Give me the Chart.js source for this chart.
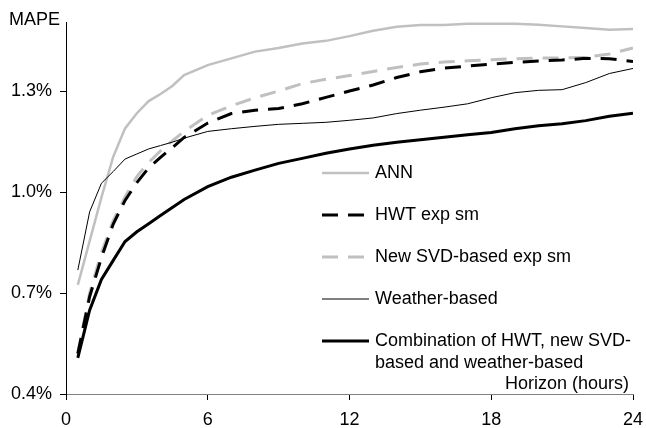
<!DOCTYPE html>
<html>
<head>
<meta charset="utf-8">
<script src="https://cdn.jsdelivr.net/npm/chart.js@4/dist/chart.umd.min.js"></script>
<style>
  html, body { margin: 0; padding: 0; background: #fff; }
  #wrap { width: 646px; height: 428px; position: relative; }
</style>
</head>
<body>
<div id="wrap"><canvas id="mape-chart"></canvas></div>
<script>
// forecast horizon in hours
const horizons = [0.5, 1, 1.5, 2, 2.5, 3, 3.5, 4, 4.5, 5,
  6, 7, 8, 9, 10, 11, 12, 13, 14, 15, 16, 17, 18, 19, 20, 21, 22, 23, 24];

// MAPE (%) per method
const annMape = [0.724, 0.854, 0.984, 1.105, 1.189, 1.234, 1.270, 1.291, 1.315, 1.347,
  1.377, 1.397, 1.417, 1.428, 1.441, 1.449, 1.463, 1.479, 1.491, 1.496,
  1.496, 1.500, 1.500, 1.500, 1.497, 1.492, 1.487, 1.482, 1.484];
const hwtMape = [0.520, 0.689, 0.805, 0.905, 0.975, 1.028, 1.072, 1.103, 1.132, 1.162,
  1.205, 1.233, 1.243, 1.248, 1.262, 1.281, 1.300, 1.318, 1.340, 1.357,
  1.368, 1.374, 1.380, 1.385, 1.389, 1.392, 1.397, 1.396, 1.388];
const svdMape = [0.520, 0.700, 0.820, 0.915, 0.985, 1.046, 1.088, 1.122, 1.152, 1.180,
  1.228, 1.256, 1.280, 1.300, 1.322, 1.335, 1.346, 1.358, 1.370, 1.380,
  1.386, 1.390, 1.393, 1.396, 1.398, 1.398, 1.400, 1.410, 1.428];
const weatherMape = [0.768, 0.941, 1.026, 1.061, 1.098, 1.113, 1.128, 1.138, 1.148, 1.160,
  1.180, 1.188, 1.195, 1.201, 1.204, 1.207, 1.213, 1.220, 1.233, 1.243,
  1.252, 1.262, 1.280, 1.295, 1.302, 1.304, 1.325, 1.352, 1.367];
const comboMape = [0.507, 0.649, 0.740, 0.797, 0.853, 0.882, 0.906, 0.930, 0.954, 0.978,
  1.016, 1.044, 1.065, 1.085, 1.100, 1.115, 1.128, 1.139, 1.148, 1.155,
  1.163, 1.170, 1.177, 1.188, 1.197, 1.203, 1.212, 1.225, 1.234];

const seriesLabels = ['ANN', 'HWT exp sm', 'New SVD-based exp sm', 'Weather-based',
  'Combination of HWT, new SVD-\nbased and weather-based'];
const yTickValues = [0.4, 0.7, 1.0, 1.3];
const xTickValues = [0, 6, 12, 18, 24];

const FONT = "'Liberation Sans', Arial, sans-serif";
const FONT_SIZE = 18;
const LIGHT = '#c0c0c0';

function toPoints(values) {
  return horizons.map((h, i) => ({ x: h, y: values[i] }));
}

// legend drawn inside the plot, one row per dataset
const insideLegend = {
  id: 'insideLegend',
  afterDraw(chart, args, opts) {
    const ctx = chart.ctx;
    ctx.save();
    ctx.font = FONT_SIZE + 'px ' + FONT;
    ctx.textBaseline = 'middle';
    chart.data.datasets.forEach((ds, i) => {
      const y = opts.top + i * opts.rowGap;
      ctx.beginPath();
      ctx.setLineDash(ds.borderDash || []);
      ctx.lineWidth = ds.borderWidth;
      ctx.strokeStyle = ds.borderColor;
      ctx.moveTo(opts.x, y);
      ctx.lineTo(opts.x + opts.lineLen, y);
      ctx.stroke();
      ctx.setLineDash([]);
      ctx.fillStyle = '#000';
      ds.label.split('\n').forEach((line, j) => {
        ctx.fillText(line, opts.x + opts.lineLen + 6, y + j * opts.lineHeight);
      });
    });
    ctx.restore();
  }
};

// axis captions: "MAPE" above the value axis, "Horizon (hours)" at the end of the time axis
const axisCaptions = {
  id: 'axisCaptions',
  afterDraw(chart) {
    const ctx = chart.ctx;
    const area = chart.chartArea;
    ctx.save();
    ctx.font = FONT_SIZE + 'px ' + FONT;
    ctx.fillStyle = '#000';
    ctx.textBaseline = 'middle';
    ctx.textAlign = 'left';
    ctx.fillText('MAPE', 9, 20);
    ctx.textAlign = 'right';
    ctx.fillText('Horizon (hours)', area.right - 4, area.bottom - 10);
    ctx.restore();
  }
};

const lineBase = { pointRadius: 0, tension: 0, fill: false };

new Chart(document.getElementById('mape-chart'), {
  type: 'line',
  data: {
    datasets: [
      { ...lineBase, label: seriesLabels[0], data: toPoints(annMape), borderColor: LIGHT, borderWidth: 2.5, order: 5 },
      { ...lineBase, label: seriesLabels[1], data: toPoints(hwtMape), borderColor: '#000', borderWidth: 3, borderDash: [16, 10], order: 3 },
      { ...lineBase, label: seriesLabels[2], data: toPoints(svdMape), borderColor: LIGHT, borderWidth: 3, borderDash: [16, 10], order: 4 },
      { ...lineBase, label: seriesLabels[3], data: toPoints(weatherMape), borderColor: '#000', borderWidth: 1, order: 2 },
      { ...lineBase, label: seriesLabels[4], data: toPoints(comboMape), borderColor: '#000', borderWidth: 3, order: 1 }
    ]
  },
  options: {
    responsive: true,
    maintainAspectRatio: false,
    animation: false,
    layout: { padding: { top: 22, right: 13, left: 0, bottom: 0 } },
    plugins: {
      legend: { display: false },
      tooltip: { enabled: false },
      insideLegend: { x: 322, top: 173, rowGap: 42, lineLen: 47, lineHeight: 22 }
    },
    scales: {
      x: {
        type: 'linear',
        min: 0,
        max: 24,
        afterFit(scale) {
          scale.height = 34;
          scale.paddingLeft = 0;
          scale.paddingRight = 0;
        },
        afterBuildTicks(scale) { scale.ticks = xTickValues.map(v => ({ value: v })); },
        ticks: { color: '#000', font: { size: FONT_SIZE, family: FONT }, padding: 9, maxRotation: 0 },
        grid: { drawOnChartArea: false, drawTicks: true, tickLength: 6, color: '#000' },
        border: { color: '#808080', width: 1 }
      },
      y: {
        min: 0.4,
        max: 1.505,
        afterFit(scale) { scale.width = 66; },
        afterBuildTicks(scale) { scale.ticks = yTickValues.map(v => ({ value: v })); },
        ticks: {
          color: '#000',
          font: { size: FONT_SIZE, family: FONT },
          padding: 8,
          callback: v => v.toFixed(1) + '%'
        },
        grid: { drawOnChartArea: false, drawTicks: true, tickLength: 6, color: '#000' },
        border: { color: '#000', width: 1 }
      }
    }
  },
  plugins: [insideLegend, axisCaptions]
});
</script>
</body>
</html>
